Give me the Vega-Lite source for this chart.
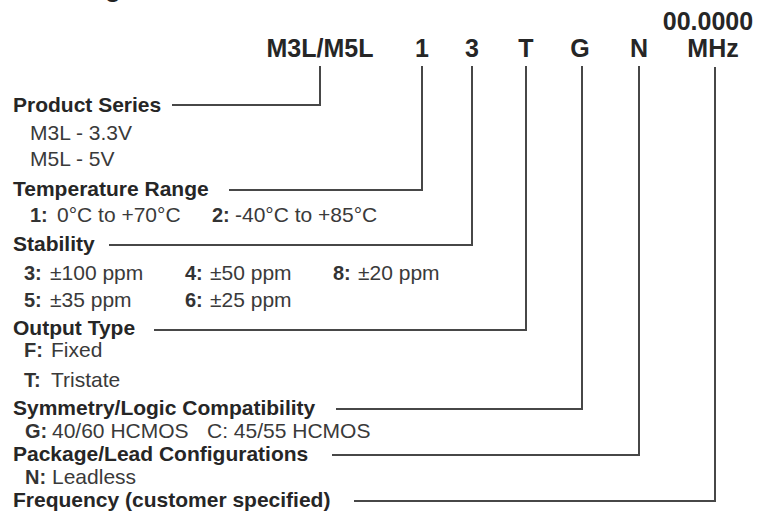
{
  "$schema": "https://vega.github.io/schema/vega-lite/v6.json",
  "width": 773,
  "height": 521,
  "padding": 0,
  "autosize": {"type": "none"},
  "background": "white",
  "config": {"view": {"stroke": null}},
  "datasets": {
    "labels": [
      {"t": "Ordering Information", "x": 11, "y": -3, "k": "title"},
      {"t": "00.0000", "x": 708, "y": 30, "k": "code"},
      {"t": "M3L/M5L", "x": 320, "y": 57, "k": "code"},
      {"t": "1", "x": 422, "y": 57, "k": "code"},
      {"t": "3", "x": 472, "y": 57, "k": "code"},
      {"t": "T", "x": 526, "y": 57, "k": "code"},
      {"t": "G", "x": 580, "y": 57, "k": "code"},
      {"t": "N", "x": 639, "y": 57, "k": "code"},
      {"t": "MHz", "x": 713, "y": 57, "k": "code"},
      {"t": "Product Series", "x": 13, "y": 112, "k": "header"},
      {"t": "Temperature Range", "x": 13, "y": 196, "k": "header"},
      {"t": "Stability", "x": 13, "y": 251, "k": "header"},
      {"t": "Output Type", "x": 13, "y": 335, "k": "header"},
      {"t": "Symmetry/Logic Compatibility", "x": 13, "y": 415, "k": "header"},
      {"t": "Package/Lead Configurations", "x": 13, "y": 461, "k": "header"},
      {"t": "Frequency (customer specified)", "x": 13, "y": 507, "k": "header"},
      {"t": "M3L - 3.3V", "x": 30, "y": 140, "k": "desc"},
      {"t": "M5L - 5V", "x": 30, "y": 166, "k": "desc"},
      {"t": "1:", "x": 30, "y": 222, "k": "key"},
      {"t": "0°C to +70°C", "x": 57, "y": 222, "k": "desc"},
      {"t": "2:", "x": 212, "y": 222, "k": "key"},
      {"t": "-40°C to +85°C", "x": 235, "y": 222, "k": "desc"},
      {"t": "3:", "x": 24, "y": 280, "k": "key"},
      {"t": "±100 ppm", "x": 50, "y": 280, "k": "desc"},
      {"t": "4:", "x": 185, "y": 280, "k": "key"},
      {"t": "±50 ppm", "x": 210, "y": 280, "k": "desc"},
      {"t": "8:", "x": 333, "y": 280, "k": "key"},
      {"t": "±20 ppm", "x": 358, "y": 280, "k": "desc"},
      {"t": "5:", "x": 24, "y": 307, "k": "key"},
      {"t": "±35 ppm", "x": 50, "y": 307, "k": "desc"},
      {"t": "6:", "x": 185, "y": 307, "k": "key"},
      {"t": "±25 ppm", "x": 210, "y": 307, "k": "desc"},
      {"t": "F:", "x": 24, "y": 357, "k": "key"},
      {"t": "Fixed", "x": 51, "y": 357, "k": "desc"},
      {"t": "T:", "x": 24, "y": 387, "k": "key"},
      {"t": "Tristate", "x": 51, "y": 387, "k": "desc"},
      {"t": "G:", "x": 25, "y": 438, "k": "key"},
      {"t": "40/60 HCMOS", "x": 52, "y": 438, "k": "desc"},
      {"t": "C: 45/55 HCMOS", "x": 207, "y": 438, "k": "desc"},
      {"t": "N:", "x": 25, "y": 484, "k": "key"},
      {"t": "Leadless", "x": 52, "y": 484, "k": "desc"}
    ],
    "connectors": [
      {"id": "P", "seq": 1, "x": 173, "y": 105},
      {"id": "P", "seq": 2, "x": 320, "y": 105},
      {"id": "P", "seq": 3, "x": 320, "y": 67},
      {"id": "T", "seq": 1, "x": 230, "y": 190},
      {"id": "T", "seq": 2, "x": 422, "y": 190},
      {"id": "T", "seq": 3, "x": 422, "y": 67},
      {"id": "S", "seq": 1, "x": 110, "y": 245},
      {"id": "S", "seq": 2, "x": 472, "y": 245},
      {"id": "S", "seq": 3, "x": 472, "y": 67},
      {"id": "O", "seq": 1, "x": 155, "y": 330},
      {"id": "O", "seq": 2, "x": 526, "y": 330},
      {"id": "O", "seq": 3, "x": 526, "y": 67},
      {"id": "Y", "seq": 1, "x": 337, "y": 409},
      {"id": "Y", "seq": 2, "x": 582, "y": 409},
      {"id": "Y", "seq": 3, "x": 582, "y": 67},
      {"id": "K", "seq": 1, "x": 333, "y": 455},
      {"id": "K", "seq": 2, "x": 639, "y": 455},
      {"id": "K", "seq": 3, "x": 639, "y": 67},
      {"id": "F", "seq": 1, "x": 355, "y": 501},
      {"id": "F", "seq": 2, "x": 715, "y": 501},
      {"id": "F", "seq": 3, "x": 715, "y": 68}
    ]
  },
  "encoding": {
    "x": {"field": "x", "type": "quantitative", "scale": {"domain": [0, 773], "range": [0, 773], "nice": false, "zero": false}, "axis": null},
    "y": {"field": "y", "type": "quantitative", "scale": {"domain": [0, 521], "range": [0, 521], "nice": false, "zero": false}, "axis": null}
  },
  "layer": [
    {
      "data": {"name": "connectors"},
      "mark": {"type": "line", "stroke": "#474747", "strokeWidth": 2, "strokeJoin": "miter", "strokeCap": "square"},
      "encoding": {"detail": {"field": "id"}, "order": {"field": "seq"}}
    },
    {
      "data": {"name": "labels"},
      "transform": [{"filter": "datum.k === 'title'"}],
      "mark": {"type": "text", "font": "Liberation Sans", "fontWeight": "bold", "fontSize": 26, "align": "left", "baseline": "alphabetic", "color": "#222222"},
      "encoding": {"text": {"field": "t"}}
    },
    {
      "data": {"name": "labels"},
      "transform": [{"filter": "datum.k === 'code'"}],
      "mark": {"type": "text", "font": "Liberation Sans", "fontWeight": "bold", "fontSize": 25, "align": "center", "baseline": "alphabetic", "color": "#262626"},
      "encoding": {"text": {"field": "t"}}
    },
    {
      "data": {"name": "labels"},
      "transform": [{"filter": "datum.k === 'header'"}],
      "mark": {"type": "text", "font": "Liberation Sans", "fontWeight": "bold", "fontSize": 21, "align": "left", "baseline": "alphabetic", "color": "#262626"},
      "encoding": {"text": {"field": "t"}}
    },
    {
      "data": {"name": "labels"},
      "transform": [{"filter": "datum.k === 'key'"}],
      "mark": {"type": "text", "font": "Liberation Sans", "fontWeight": "bold", "fontSize": 20, "align": "left", "baseline": "alphabetic", "color": "#333333"},
      "encoding": {"text": {"field": "t"}}
    },
    {
      "data": {"name": "labels"},
      "transform": [{"filter": "datum.k === 'desc'"}],
      "mark": {"type": "text", "font": "Liberation Sans", "fontSize": 21, "align": "left", "baseline": "alphabetic", "color": "#3a3a3a"},
      "encoding": {"text": {"field": "t"}}
    }
  ]
}
